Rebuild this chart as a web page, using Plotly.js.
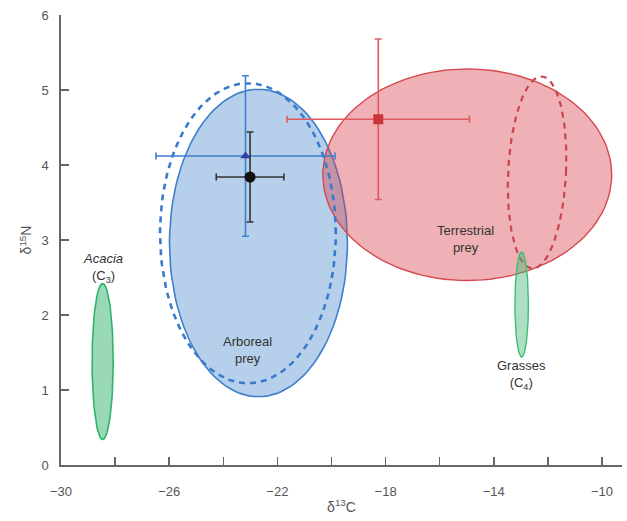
<!DOCTYPE html>
<html>
<head>
<meta charset="utf-8">
<script src="https://cdn.plot.ly/plotly-3.0.1.min.js"></script>
<style>html,body{margin:0;padding:0;background:#fff;}#chart{width:627px;height:521px;}</style>
</head>
<body>
<div id="chart"></div>
<script>
// ---- Data ----
// Isotopic niche ellipses: centre, half-widths (δ13C, δ15N) and a small shear (tilt)
const ellipseNames = ['Arboreal prey', 'Terrestrial prey', 'Arboreal prey (dashed)', 'Terrestrial prey (dashed)', 'Acacia (C3)', 'Grasses (C4)'];
const ellipseCx   = [-22.70, -14.98, -23.09, -12.40, -28.46, -12.97];
const ellipseCy   = [2.96, 3.87, 3.09, 3.90, 1.38, 2.14];
const ellipseRx   = [3.29, 5.34, 3.25, 1.07, 0.39, 0.25];
const ellipseRy   = [2.05, 1.41, 2.00, 1.28, 1.04, 0.70];
const ellipseTilt = [0, 0, 0, 0.125, 0, 0];

// Mean ± SD points
const pointNames = ['Consumer', 'Arboreal prey mean', 'Terrestrial prey mean'];
const pointX  = [-23.01, -23.18, -18.27];
const pointY  = [3.84, 4.12, 4.61];
const pointEx = [1.25, 3.31, 3.37];
const pointEy = [0.60, 1.07, 1.07];

// Axis ticks
const xLabelVals = [-30, -26, -22, -18, -14, -10];
const xLabelText = ['−30', '−26', '−22', '−18', '−14', '−10'];
const xTickMarks = [-28, -26, -24, -22, -20, -18, -16, -14, -12, -10];
const yLabelVals = [0, 1, 2, 3, 4, 5, 6];
const yTickMarks = [1, 2, 3, 4, 5];

// Labels
const labelText = ['<i>Acacia</i><br>(C<sub>3</sub>)', 'Arboreal<br>prey', 'Terrestrial<br>prey', 'Grasses<br>(C<sub>4</sub>)'];
const labelX = [-28.45, -23.09, -15.03, -12.96];
const labelY = [2.63, 1.54, 3.02, 1.20];

// ---- Build ----
function ellipse(i) {
  const xs = [], ys = [];
  for (let k = 0; k <= 120; k++) {
    const t = 2 * Math.PI * k / 120;
    const dy = ellipseRy[i] * Math.sin(t);
    xs.push(ellipseCx[i] + ellipseRx[i] * Math.cos(t) + ellipseTilt[i] * dy);
    ys.push(ellipseCy[i] + dy);
  }
  return {x: xs, y: ys};
}

const styles = [
  {fill: 'toself', fillcolor: 'rgba(80,140,205,0.42)', line: {color: '#3f7fcc', width: 1.6}},
  {fill: 'toself', fillcolor: 'rgba(215,60,70,0.40)', line: {color: '#d4484f', width: 1.4}},
  {fill: 'none', line: {color: '#3a7bcc', width: 2.6, dash: '6px,5px'}},
  {fill: 'none', line: {color: '#c8464c', width: 2.2, dash: '6px,5px'}},
  {fill: 'toself', fillcolor: 'rgba(70,185,125,0.55)', line: {color: '#2fb36c', width: 1.6}},
  {fill: 'toself', fillcolor: 'rgba(70,185,125,0.45)', line: {color: '#3cbf70', width: 1.4}}
];

const traces = [];
ellipseNames.forEach((n, i) => {
  const e = ellipse(i);
  traces.push(Object.assign({type: 'scatter', mode: 'lines', x: e.x, y: e.y, name: n, hoverinfo: 'skip'}, styles[i]));
});

const pStyles = [
  {marker: {symbol: 'circle', size: 11, color: '#111'}, ec: '#333'},
  {marker: {symbol: 'triangle-up', size: 9, color: '#2e3fa8'}, ec: '#3f7fcc'},
  {marker: {symbol: 'square', size: 10, color: '#c9353b'}, ec: '#df5a5f'}
];
const order = [1, 2, 0];
order.forEach(i => {
  traces.push({
    type: 'scatter', mode: 'markers', name: pointNames[i],
    x: [pointX[i]], y: [pointY[i]],
    marker: pStyles[i].marker,
    error_x: {type: 'data', array: [pointEx[i]], visible: true, color: pStyles[i].ec, thickness: 1.6, width: 3.5},
    error_y: {type: 'data', array: [pointEy[i]], visible: true, color: pStyles[i].ec, thickness: 1.6, width: 3.5}
  });
});

// invisible trace on the overlay axis so its ticks are drawn
traces.push({type: 'scatter', mode: 'markers', x: [-20], y: [3], xaxis: 'x2', yaxis: 'y2', marker: {opacity: 0}, hoverinfo: 'skip', showlegend: false});

const fontFam = 'Liberation Sans, Arial, sans-serif';
const layout = {
  width: 627, height: 521,
  margin: {l: 61, r: 5, t: 15, b: 56},
  paper_bgcolor: '#fff', plot_bgcolor: 'rgba(0,0,0,0)',
  showlegend: false,
  font: {family: fontFam, size: 13, color: '#444'},
  xaxis: {
    range: [-30, -9.26], showgrid: false, zeroline: false,
    showline: true, linecolor: '#666', linewidth: 1.6,
    tickmode: 'array', tickvals: xLabelVals, ticktext: xLabelText,
    ticks: '', ticklen: 0, ticklabelstandoff: 14,
    tickfont: {family: fontFam, size: 13, color: '#555'},
    title: {text: 'δ<sup>13</sup>C', font: {family: fontFam, size: 14, color: '#555'}, standoff: 4}
  },
  yaxis: {
    range: [0, 6], showgrid: false, zeroline: false,
    showline: true, linecolor: '#666', linewidth: 1.6,
    tickmode: 'array', tickvals: yLabelVals, ticks: '', ticklen: 0, ticklabelstandoff: 8,
    tickfont: {family: fontFam, size: 13, color: '#555'},
    title: {text: 'δ<sup>15</sup>N', font: {family: fontFam, size: 14, color: '#555'}, standoff: 6}
  },
  xaxis2: {
    overlaying: 'x', range: [-30, -9.26], showgrid: false, zeroline: false, showline: false,
    tickmode: 'array', tickvals: xTickMarks, ticks: 'inside', ticklen: 8, tickwidth: 1.6, tickcolor: '#666',
    showticklabels: false, anchor: 'y2'
  },
  yaxis2: {
    overlaying: 'y', range: [0, 6], showgrid: false, zeroline: false, showline: false,
    tickmode: 'array', tickvals: yTickMarks, ticks: 'inside', ticklen: 8, tickwidth: 1.6, tickcolor: '#666',
    showticklabels: false, anchor: 'x2'
  },
  annotations: labelText.map((t, i) => ({
    x: labelX[i], y: labelY[i], xref: 'x', yref: 'y', text: t, showarrow: false,
    font: {family: fontFam, size: 13, color: '#333'}, align: 'center'
  }))
};

Plotly.newPlot('chart', traces, layout, {displayModeBar: false, staticPlot: true});
</script>
</body>
</html>
